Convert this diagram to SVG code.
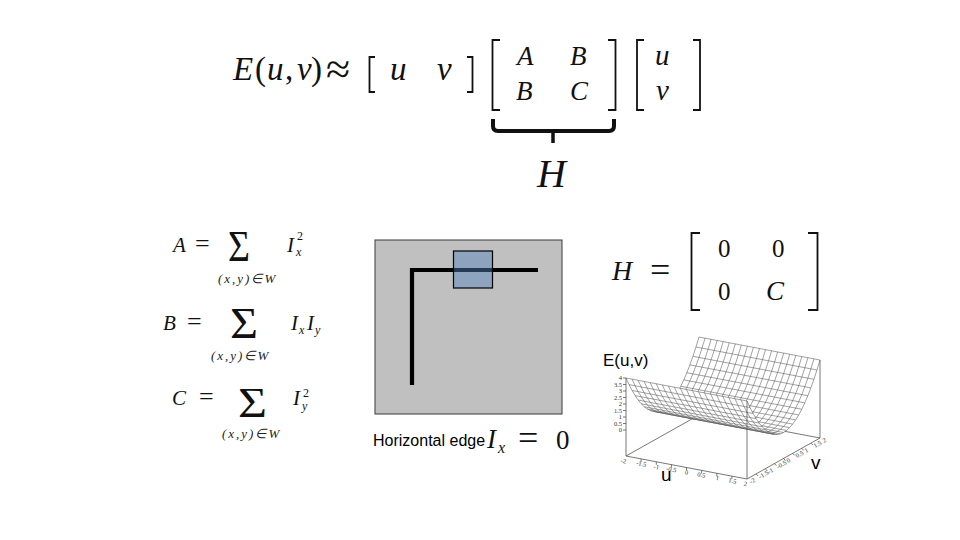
<svg xmlns="http://www.w3.org/2000/svg" width="960" height="540" viewBox="0 0 960 540">
<style>
.m{font-family:"Liberation Serif","Times New Roman",serif;font-style:italic;fill:#111}
.r{font-family:"Liberation Serif","Times New Roman",serif;fill:#111}
.s{font-family:"Liberation Sans",Arial,sans-serif;fill:#000}
.sub{font-family:"Liberation Serif","Times New Roman",serif;font-style:italic;fill:#222;font-size:13px;letter-spacing:2px}
.br{fill:none;stroke:#111;stroke-width:1.8}
.mesh{fill:none;stroke:#555;stroke-width:0.55}
.ax{fill:none;stroke:#555;stroke-width:0.8}
.tk{font-family:"Liberation Serif","Times New Roman",serif;font-size:6.5px;fill:#333}
</style>
<defs>
<path id="cb" d="M653.38 411.38 L656.42 411.47 L659.46 410.85 L662.5 409.5 L665.54 407.43 L668.58 404.64 L671.63 401.13 L674.67 396.89 L677.71 391.93 L680.75 386.25 L683.79 379.85 L686.83 372.72 L689.88 364.88 L692.92 356.31 L695.96 347.01 L699 337"/>
<path id="cf" d="M626 378 L629.04 384.6 L632.08 390.47 L635.13 395.63 L638.17 400.06 L641.21 403.76 L644.25 406.75 L647.29 409.01 L650.33 410.56 L653.38 411.38"/>
</defs>
<rect width="960" height="540" fill="#fff"/>

<g id="equation-top">
<text class="m" font-size="33" x="233" y="80">E</text>
<text class="r" font-size="33" x="255" y="80">(</text>
<text class="m" font-size="33" x="267" y="80">u</text>
<text class="r" font-size="33" x="285" y="80">,</text>
<text class="m" font-size="33" x="297" y="80">v</text>
<text class="r" font-size="33" x="311" y="80">)</text>
<text class="r" font-size="44" x="326" y="84">≈</text>
<path class="br" d="M375 57 H369.5 V92 H375"/>
<text class="m" font-size="33" x="390" y="80">u</text>
<text class="m" font-size="33" x="437" y="80">v</text>
<path class="br" d="M467 57 H472.5 V92 H467"/>
<path class="br" d="M500 40 H492.5 V110 H500"/>
<text class="m" font-size="27" x="517" y="65">A</text>
<text class="m" font-size="27" x="570" y="65">B</text>
<text class="m" font-size="27" x="516" y="100">B</text>
<text class="m" font-size="27" x="570" y="100">C</text>
<path class="br" d="M608 40 H615.5 V110 H608"/>
<path class="br" d="M644 40 H637 V110 H644"/>
<text class="m" font-size="29" x="655" y="65">u</text>
<text class="m" font-size="29" x="656" y="100">v</text>
<path class="br" d="M693 40 H700 V110 H693"/>
</g>

<g id="brace-H">
<path d="M493 119 V126 Q493 131 498 131 H609 Q614 131 614 126 V119" fill="none" stroke="#111" stroke-width="4"/>
<path d="M553 131 V143" fill="none" stroke="#111" stroke-width="3.5"/>
<text class="m" font-size="40" x="537" y="187">H</text>
</g>

<g id="formula-A">
<text class="m" font-size="21" x="173" y="252">A</text>
<text class="r" font-size="26" x="195" y="252">=</text>
<text class="r" font-size="44" x="228" y="261" textLength="22" lengthAdjust="spacingAndGlyphs">Σ</text>
<text class="sub" x="218" y="282.5">(x,y)∈W</text>
<text class="m" font-size="21" x="287" y="252">I</text>
<text class="r" font-size="12" x="297" y="240">2</text>
<text class="m" font-size="12" x="296" y="256">x</text>
</g>

<g id="formula-B">
<text class="m" font-size="21" x="163" y="330">B</text>
<text class="r" font-size="26" x="187" y="330">=</text>
<text class="r" font-size="44" x="230" y="338" textLength="28" lengthAdjust="spacingAndGlyphs">Σ</text>
<text class="sub" x="211" y="360">(x,y)∈W</text>
<text class="m" font-size="21" x="291" y="330">I</text>
<text class="m" font-size="12" x="299" y="334">x</text>
<text class="m" font-size="21" x="307" y="330">I</text>
<text class="m" font-size="12" x="315" y="334">y</text>
</g>

<g id="formula-C">
<text class="m" font-size="21" x="172" y="405">C</text>
<text class="r" font-size="26" x="199" y="405">=</text>
<text class="r" font-size="42" x="238" y="417" textLength="29" lengthAdjust="spacingAndGlyphs">Σ</text>
<text class="sub" x="222" y="438">(x,y)∈W</text>
<text class="m" font-size="21" x="293" y="405">I</text>
<text class="r" font-size="12" x="303" y="397">2</text>
<text class="m" font-size="12" x="302" y="410">y</text>
</g>

<g id="image-box">
<rect x="375" y="240" width="187" height="174" fill="#c0c0c0" stroke="#3a3a3a" stroke-width="1"/>
<path d="M538 270 H412 V385" fill="none" stroke="#000" stroke-width="4.2"/>
<rect x="453.5" y="251" width="39" height="37" fill="#4f81bd" fill-opacity="0.45" stroke="#000" stroke-width="1.2"/>
</g>

<g id="caption">
<text class="s" font-size="16" x="373" y="446">Horizontal edge</text>
<text class="m" font-size="27" x="487" y="448">I</text>
<text class="m" font-size="16" x="498" y="453">x</text>
<text class="r" font-size="36" x="518" y="450">=</text>
<text class="r" font-size="27" x="556" y="449">0</text>
</g>

<g id="H-matrix">
<text class="m" font-size="28" x="612" y="280">H</text>
<text class="r" font-size="36" x="650" y="282">=</text>
<path class="br" d="M700 233 H691.5 V310 H700"/>
<text class="r" font-size="25" x="718" y="257">0</text>
<text class="r" font-size="25" x="772" y="257">0</text>
<text class="r" font-size="25" x="718" y="300">0</text>
<text class="m" font-size="27" x="766" y="300">C</text>
<path class="br" d="M808 233 H817.5 V310 H808"/>
</g>

<g id="surface-plot">
<path class="ax" d="M626 456 L699 415 L820 438"/>
<g id="back-wall">
<path d="M653.38 411.38 L656.42 411.47 L659.46 410.85 L662.5 409.5 L665.54 407.43 L668.58 404.64 L671.63 401.13 L674.67 396.89 L677.71 391.93 L680.75 386.25 L683.79 379.85 L686.83 372.72 L689.88 364.88 L692.92 356.31 L695.96 347.01 L699 337 L820 360 L816.96 370.01 L813.92 379.31 L810.88 387.88 L807.83 395.72 L804.79 402.85 L801.75 409.25 L798.71 414.93 L795.67 419.89 L792.63 424.13 L789.58 427.64 L786.54 430.43 L783.5 432.5 L780.46 433.85 L777.42 434.47 L774.38 434.38 Z" fill="#fff"/>
<g class="mesh">
<path d="M653.38 411.38 l121 23 M656.42 411.47 l121 23 M659.46 410.85 l121 23 M662.5 409.5 l121 23 M665.54 407.43 l121 23 M668.58 404.64 l121 23 M671.63 401.13 l121 23 M674.67 396.89 l121 23 M677.71 391.93 l121 23 M680.75 386.25 l121 23 M683.79 379.85 l121 23 M686.83 372.72 l121 23 M689.88 364.88 l121 23 M692.92 356.31 l121 23 M695.96 347.01 l121 23 M699 337 l121 23"/>
<use href="#cb"/>
<use href="#cb" transform="translate(6.05 1.15)"/>
<use href="#cb" transform="translate(12.1 2.3)"/>
<use href="#cb" transform="translate(18.15 3.45)"/>
<use href="#cb" transform="translate(24.2 4.6)"/>
<use href="#cb" transform="translate(30.25 5.75)"/>
<use href="#cb" transform="translate(36.3 6.9)"/>
<use href="#cb" transform="translate(42.35 8.05)"/>
<use href="#cb" transform="translate(48.4 9.2)"/>
<use href="#cb" transform="translate(54.45 10.35)"/>
<use href="#cb" transform="translate(60.5 11.5)"/>
<use href="#cb" transform="translate(66.55 12.65)"/>
<use href="#cb" transform="translate(72.6 13.8)"/>
<use href="#cb" transform="translate(78.65 14.95)"/>
<use href="#cb" transform="translate(84.7 16.1)"/>
<use href="#cb" transform="translate(90.75 17.25)"/>
<use href="#cb" transform="translate(96.8 18.4)"/>
<use href="#cb" transform="translate(102.85 19.55)"/>
<use href="#cb" transform="translate(108.9 20.7)"/>
<use href="#cb" transform="translate(114.95 21.85)"/>
<use href="#cb" transform="translate(121 23)"/>
</g>
</g>
<g id="front-wall">
<path d="M626 378 L629.04 384.6 L632.08 390.47 L635.13 395.63 L638.17 400.06 L641.21 403.76 L644.25 406.75 L647.29 409.01 L650.33 410.56 L653.38 411.38 L774.38 434.38 L771.33 433.56 L768.29 432.01 L765.25 429.75 L762.21 426.76 L759.17 423.06 L756.13 418.63 L753.08 413.47 L750.04 407.6 L747 401 Z" fill="#fff"/>
<g class="mesh">
<path d="M626 378 l121 23 M629.04 384.6 l121 23 M632.08 390.47 l121 23 M635.13 395.63 l121 23 M638.17 400.06 l121 23 M641.21 403.76 l121 23 M644.25 406.75 l121 23 M647.29 409.01 l121 23 M650.33 410.56 l121 23 M653.38 411.38 l121 23"/>
<use href="#cf"/>
<use href="#cf" transform="translate(6.05 1.15)"/>
<use href="#cf" transform="translate(12.1 2.3)"/>
<use href="#cf" transform="translate(18.15 3.45)"/>
<use href="#cf" transform="translate(24.2 4.6)"/>
<use href="#cf" transform="translate(30.25 5.75)"/>
<use href="#cf" transform="translate(36.3 6.9)"/>
<use href="#cf" transform="translate(42.35 8.05)"/>
<use href="#cf" transform="translate(48.4 9.2)"/>
<use href="#cf" transform="translate(54.45 10.35)"/>
<use href="#cf" transform="translate(60.5 11.5)"/>
<use href="#cf" transform="translate(66.55 12.65)"/>
<use href="#cf" transform="translate(72.6 13.8)"/>
<use href="#cf" transform="translate(78.65 14.95)"/>
<use href="#cf" transform="translate(84.7 16.1)"/>
<use href="#cf" transform="translate(90.75 17.25)"/>
<use href="#cf" transform="translate(96.8 18.4)"/>
<use href="#cf" transform="translate(102.85 19.55)"/>
<use href="#cf" transform="translate(108.9 20.7)"/>
<use href="#cf" transform="translate(114.95 21.85)"/>
<use href="#cf" transform="translate(121 23)"/>
</g>
</g>
<path class="ax" d="M626 456 L747 479 L820 438 M626 456 V378 M747 479 V401 M820 438 V360"/>
<path class="ax" d="M623 378 H626 M623 384.5 H626 M623 391 H626 M623 397.5 H626 M623 404 H626 M623 410.5 H626 M623 417 H626 M623 423.5 H626 M623 430 H626 M641.1 458.9 v3 M656.3 461.8 v3 M671.4 464.6 v3 M686.5 467.5 v3 M701.6 470.4 v3 M716.8 473.3 v3 M731.9 476.1 v3 M756.1 473.9 l2 2 M765.3 468.8 l2 2 M774.4 463.6 l2 2 M783.5 458.5 l2 2 M792.6 453.4 l2 2 M801.8 448.3 l2 2 M810.9 443.1 l2 2"/>
<g class="tk" text-anchor="end">
<text x="622" y="380">4</text>
<text x="622" y="386.5">3.5</text>
<text x="622" y="393">3</text>
<text x="622" y="399.5">2.5</text>
<text x="622" y="406">2</text>
<text x="622" y="412.5">1.5</text>
<text x="622" y="419">1</text>
<text x="622" y="425.5">0.5</text>
<text x="622" y="432">0</text>
</g>
<g class="tk" text-anchor="middle">
<text x="623" y="463" transform="rotate(10.8 623 463)">-2</text>
<text x="641" y="466" transform="rotate(10.8 641 466)">-1.5</text>
<text x="656" y="469" transform="rotate(10.8 656 469)">-1</text>
<text x="671" y="471.5" transform="rotate(10.8 671 471.5)">-0.5</text>
<text x="686" y="474.5" transform="rotate(10.8 686 474.5)">0</text>
<text x="701" y="477" transform="rotate(10.8 701 477)">0.5</text>
<text x="717" y="480" transform="rotate(10.8 717 480)">1</text>
<text x="732" y="483" transform="rotate(10.8 732 483)">1.5</text>
<text x="745" y="486" transform="rotate(10.8 745 486)">2</text>
</g>
<g class="tk">
<text x="751" y="484" transform="rotate(-29 751 484)">-2</text>
<text x="760" y="479" transform="rotate(-29 760 479)">-1.5</text>
<text x="769" y="474" transform="rotate(-29 769 474)">-1</text>
<text x="778" y="469" transform="rotate(-29 778 469)">-0.5</text>
<text x="788" y="463" transform="rotate(-29 788 463)">0</text>
<text x="797" y="458" transform="rotate(-29 797 458)">0.5</text>
<text x="806" y="453" transform="rotate(-29 806 453)">1</text>
<text x="815" y="448" transform="rotate(-29 815 448)">1.5</text>
<text x="824" y="443" transform="rotate(-29 824 443)">2</text>
</g>
<text class="s" font-size="17" x="603" y="366">E(u,v)</text>
<text class="s" font-size="19" x="661" y="481">u</text>
<text class="s" font-size="19" x="811" y="469">v</text>
</g>
</svg>
